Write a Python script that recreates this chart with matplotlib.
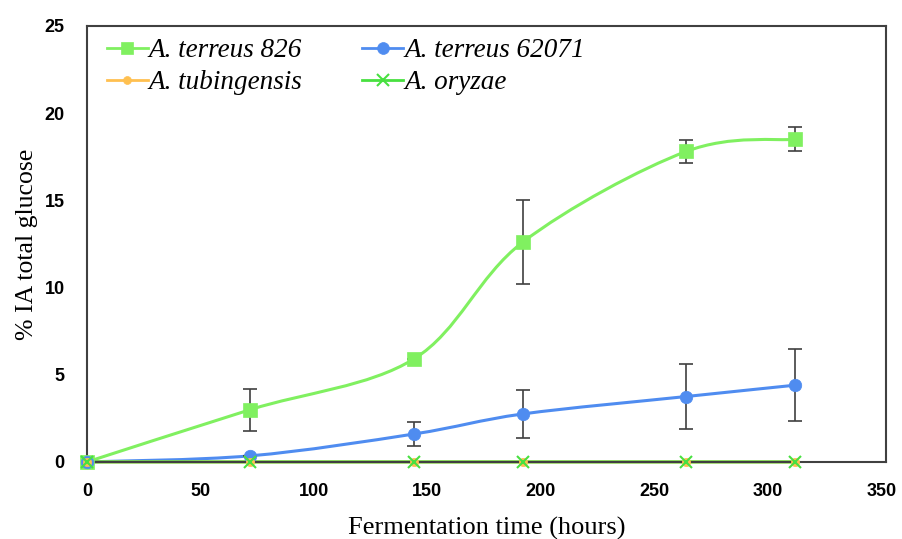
import matplotlib.pyplot as plt
from matplotlib.path import Path
from matplotlib.patches import PathPatch
from matplotlib.lines import Line2D

# fermentation time (hours)
hours = [0, 72, 144, 192, 264, 312]

# % IA of total glucose
terreus826 = [0, 3.0, 5.9, 12.6, 17.8, 18.5]
terreus826_err = [0, 1.2, 0, 2.4, 0.65, 0.7]
terreus62071 = [0, 0.35, 1.6, 2.75, 3.75, 4.4]
terreus62071_err = [0, 0, 0.7, 1.35, 1.85, 2.05]
tubingensis = [0, 0, 0, 0, 0, 0]
oryzae = [0, 0, 0, 0, 0, 0]

names = ['A. terreus 826', 'A. terreus 62071', 'A. tubingensis', 'A. oryzae']
colors = ['#80f060', '#4f8cf0', '#ffc050', '#48e040']


def smooth_path(x, y):
    # excel-style smoothed line as cubic bezier segments
    pts = list(zip(x, y))
    verts = [pts[0]]
    codes = [Path.MOVETO]
    n = len(pts)
    for i in range(n - 1):
        p0 = pts[i - 1] if i > 0 else pts[i]
        p1 = pts[i]
        p2 = pts[i + 1]
        p3 = pts[i + 2] if i + 2 < n else pts[i + 1]
        c1 = (p1[0] + (p2[0] - p0[0]) / 6, p1[1] + (p2[1] - p0[1]) / 6)
        c2 = (p2[0] - (p3[0] - p1[0]) / 6, p2[1] - (p3[1] - p1[1]) / 6)
        verts += [c1, c2, p2]
        codes += [Path.CURVE4] * 3
    return Path(verts, codes)


fig = plt.figure(figsize=(9.03, 5.39), dpi=100)
ax = fig.add_axes([0.0963, 0.143, 0.8848, 0.809])

series = [terreus826, terreus62071, tubingensis, oryzae]
markers = ['s', 'o', 'o', 'x']
msizes = [9.5, 9, 6, 9]

for ys, c in zip(series, colors):
    ax.add_patch(PathPatch(smooth_path(hours, ys), facecolor='none',
                           edgecolor=c, lw=2.2, zorder=2, clip_on=False))

ax.errorbar(hours, terreus826, yerr=terreus826_err, fmt='none',
            ecolor='#404040', elinewidth=1.2, capsize=5, capthick=1.2, zorder=3)
ax.errorbar(hours, terreus62071, yerr=terreus62071_err, fmt='none',
            ecolor='#404040', elinewidth=1.2, capsize=5, capthick=1.2, zorder=3)

for ys, c, m, s in zip(series, colors, markers, msizes):
    ax.plot(hours, ys, linestyle='none', marker=m, color=c, markersize=s,
            markeredgewidth=1.5 if m == 'x' else 0.5, zorder=4, clip_on=False)

handles = [Line2D([], [], color=c, lw=2, marker=m, markersize=s * 0.95,
                  markeredgewidth=1.5 if m == 'x' else 0.5)
           for c, m, s in zip(colors, markers, msizes)]
leg = ax.legend([handles[0], handles[2], handles[1], handles[3]],
                [names[0], names[2], names[1], names[3]],
                ncol=2, loc='upper left', bbox_to_anchor=(0.025, 0.972),
                borderaxespad=0, borderpad=0,
                frameon=False, handlelength=1.5, handletextpad=0.05,
                columnspacing=2.2, labelspacing=0.26,
                prop={'family': 'Liberation Serif', 'style': 'italic', 'size': 19.5})

ax.set_xlim(0, 352)
ax.set_ylim(0, 25)
ax.set_xticks(range(0, 351, 50))
ax.set_yticks(range(0, 26, 5))
ax.tick_params(length=0, labelsize=13)
for lbl in ax.get_xticklabels() + ax.get_yticklabels():
    lbl.set_fontweight('bold')
    lbl.set_family('Liberation Sans')
ax.tick_params(axis='y', pad=16)
ax.tick_params(axis='x', pad=15)

for sp in ax.spines.values():
    sp.set_color('#404040')
    sp.set_linewidth(1.5)

ax.set_xlabel('Fermentation time (hours)', family='Liberation Serif', fontsize=19, labelpad=12)
ax.set_ylabel('% IA total glucose', family='Liberation Serif', fontsize=18.5, labelpad=5)

fig.savefig('out.png', dpi=100)
